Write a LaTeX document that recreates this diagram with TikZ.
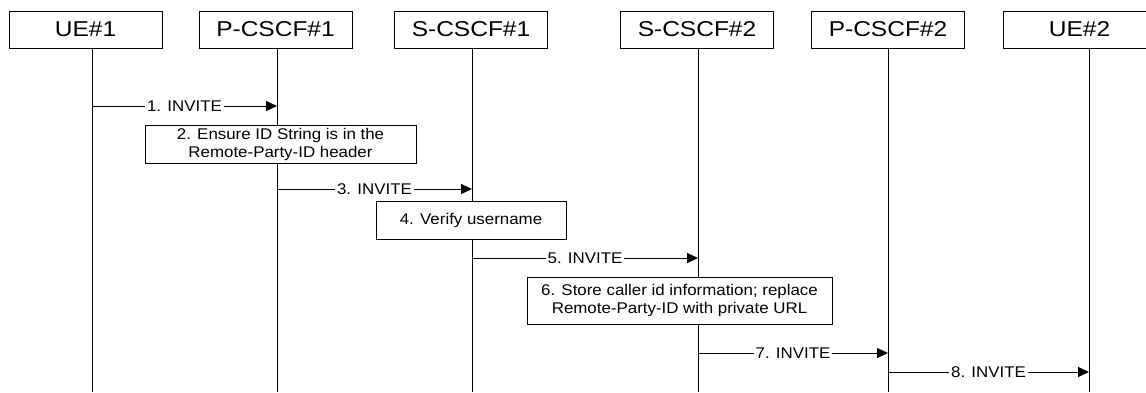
\documentclass[tikz,border=0pt]{standalone}
\usepackage{fontspec}
\setmainfont{Liberation Sans}
\newfontfamily\headfont[FakeStretch=1.14]{Liberation Sans}
\newfontfamily\msgfont[FakeStretch=1.09]{Liberation Sans}
\usetikzlibrary{arrows.meta}

\begin{document}
\begin{tikzpicture}[x=1pt,y=-1pt,line width=1pt,
  entity/.style={draw,minimum width=153pt,minimum height=37pt,inner sep=0pt,font=\headfont\fontsize{21.5}{24}\selectfont},
  note/.style={draw,fill=white,inner sep=0pt,align=center,font=\msgfont\fontsize{15.5}{18}\selectfont},
  msg/.style={-{Triangle[length=11pt,width=10pt]}},
  lbl/.style={fill=white,inner sep=2pt,font=\msgfont\fontsize{15.5}{18}\selectfont}]
\useasboundingbox (0,0) rectangle (1146,392);
% entities and lifelines
\foreach \n/\t/\cx/\lx in {ue1/UE\#1/85.5/92, pc1/P-CSCF\#1/275.5/277, sc1/S-CSCF\#1/471/472,
    sc2/S-CSCF\#2/697/698, pc2/P-CSCF\#2/888/888, ue2/UE\#2/1079.5/1089}{
  \node[entity] (\n) at (\cx,29.5) {\t};
  \coordinate (\n-top) at (\lx,48);
  \coordinate (\n-end) at (\lx,392);
  \draw (\n-top) -- (\n-end);
}
% messages
\foreach \a/\b/\y/\k in {ue1/pc1/106/1, pc1/sc1/189/3, sc1/sc2/258/5, sc2/pc2/353/7, pc2/ue2/372/8}{
  \coordinate (m\k-from) at (\a-top |- 0,\y);
  \coordinate (m\k-to) at (\b-top |- 0,\y);
  \draw[msg] (m\k-from) -- node[lbl] {\k. INVITE} (m\k-to);
}
% actions
\node[note,minimum width=271pt,minimum height=38pt] (ensure) at (280.5,144) {2. Ensure ID String is in the\\Remote-Party-ID header};
\node[note,minimum width=190pt,minimum height=38pt] (verify) at (471,220) {4. Verify username};
\node[note,minimum width=305pt,minimum height=47pt] (store) at (679.5,300.5) {6. Store caller id information; replace\\Remote-Party-ID with private URL};
\end{tikzpicture}
\end{document}
